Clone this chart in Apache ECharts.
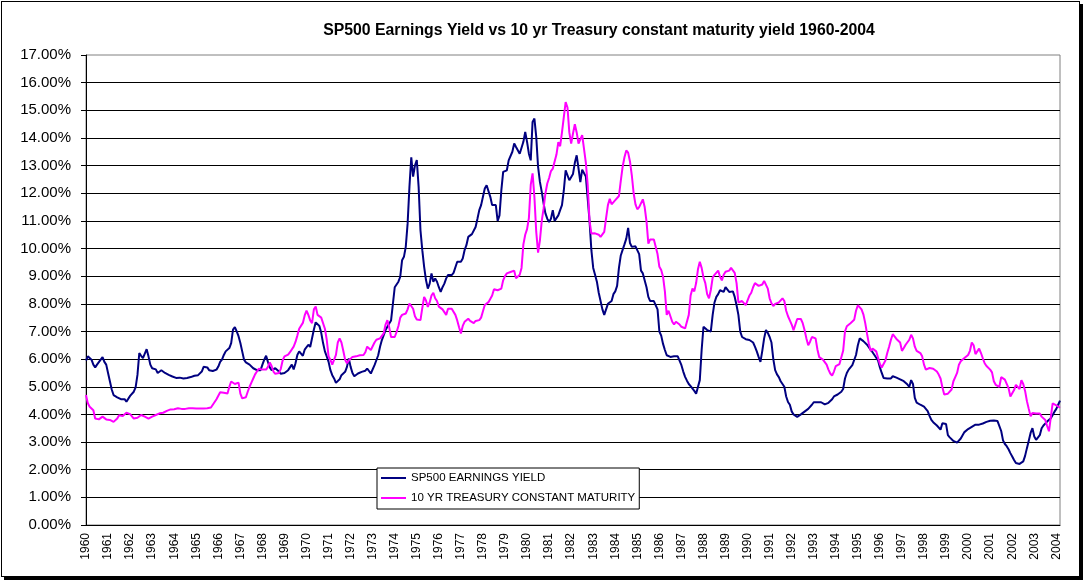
<!DOCTYPE html>
<html>
<head>
<meta charset="utf-8">
<script src="https://cdn.jsdelivr.net/npm/echarts@6/dist/echarts.min.js"></script>
<style>
  html, body { margin: 0; padding: 0; background: #ffffff; }
  #frame { position: absolute; left: 1px; top: 1px; width: 1077px; height: 574px;
           border: 1px solid #000; background: #fff; box-shadow: 3px 3px 0 #000; }
  #chart { position: absolute; left: 0; top: 0; width: 1085px; height: 583px; }
</style>
</head>
<body>
<div id="frame"></div>
<div id="chart"></div>
<script>
// Year tick labels (one label per January)
const years = [1960,1961,1962,1963,1964,1965,1966,1967,1968,1969,
               1970,1971,1972,1973,1974,1975,1976,1977,1978,1979,
               1980,1981,1982,1983,1984,1985,1986,1987,1988,1989,
               1990,1991,1992,1993,1994,1995,1996,1997,1998,1999,
               2000,2001,2002,2003,2004];

// SP500 earnings yield, monthly, percent
const spEarningsYield = [
  5.95,6.1,6.15,5.98,5.8,5.7,5.8,5.83,5.98,6.07,5.9,5.8,          // 1960
  5.5,5.2,4.9,4.7,4.65,4.62,4.62,4.55,4.52,4.55,4.46,4.52,        // 1961
  4.67,4.74,4.82,4.98,5.43,6.22,6.12,6.04,6.1,6.36,6.1,5.8,       // 1962
  5.67,5.6,5.63,5.5,5.47,5.6,5.55,5.5,5.5,5.43,5.47,5.37,         // 1963
  5.33,5.32,5.35,5.33,5.32,5.3,5.36,5.32,5.38,5.35,5.37,5.4,      // 1964
  5.4,5.42,5.45,5.55,5.72,5.76,5.7,5.6,5.55,5.57,5.6,5.62,        // 1965
  5.73,5.9,5.98,6.15,6.28,6.34,6.4,6.58,7.07,7.16,7.0,6.83,       // 1966
  6.58,6.28,5.98,5.88,5.83,5.8,5.73,5.67,5.6,5.6,5.67,5.6,        // 1967
  5.8,5.98,6.12,5.9,5.7,5.6,5.6,5.67,5.73,5.55,5.47,5.47,         // 1968
  5.5,5.55,5.6,5.67,5.8,5.63,5.85,6.15,6.28,6.22,6.12,6.34,       // 1969
  6.4,6.52,6.44,6.5,7.07,7.33,7.3,7.2,6.95,6.58,6.28,6.1,         // 1970
  5.9,5.6,5.42,5.3,5.14,5.12,5.27,5.42,5.48,5.54,5.72,6.02,       // 1971
  5.72,5.5,5.38,5.38,5.48,5.5,5.54,5.54,5.58,5.66,5.6,5.48,       // 1972
  5.46,5.78,5.96,6.14,6.45,6.69,6.87,7.05,7.11,7.29,7.4,8.0,      // 1973
  8.6,8.67,8.8,8.98,9.58,9.7,10.06,10.9,12.23,13.3,12.6,13.0,     // 1974
  13.2,12.23,10.66,9.94,9.34,8.86,8.55,8.73,9.1,8.8,8.92,8.8,     // 1975
  8.6,8.43,8.6,8.73,8.92,9.04,9.04,9.04,9.12,9.16,9.52,9.52,      // 1976
  9.52,9.64,9.94,10.12,10.42,10.48,10.52,10.54,10.78,11.08,11.39,11.57, // 1977
  11.87,12.17,12.29,12.23,11.87,11.57,11.5,11.57,11.0,11.2,12.1,12.77,  // 1978
  12.83,12.83,13.19,13.25,13.5,13.8,13.67,13.73,13.43,13.5,13.86,14.22, // 1979
  13.86,13.43,13.19,14.58,14.7,14.04,12.95,12.41,12.05,11.63,11.27,11.08, // 1980
  10.96,11.08,11.39,11.0,11.0,11.2,11.39,11.57,12.1,12.83,12.65,12.47,  // 1981
  12.4,12.7,13.1,13.37,12.9,12.4,12.85,12.8,12.6,11.8,11.0,9.94,  // 1982
  9.3,9.05,8.8,8.4,8.1,7.8,7.6,7.65,8.0,8.05,8.1,8.35,            // 1983
  8.45,8.65,9.3,9.75,9.95,10.15,10.36,10.75,10.2,10.06,10.06,10.08, // 1984
  10.06,9.8,9.2,9.1,9.04,8.6,8.25,8.1,8.07,8.1,8.13,7.8,          // 1985
  7.0,6.85,6.55,6.33,6.14,6.1,6.08,6.06,6.1,6.14,6.1,6.05,        // 1986
  5.78,5.55,5.36,5.22,5.1,5.02,4.95,4.85,4.75,4.72,5.24,6.33,     // 1987
  7.17,7.1,7.05,7.0,7.0,7.6,8.05,8.25,8.35,8.49,8.45,8.43,        // 1988
  8.6,8.55,8.43,8.5,8.45,8.25,7.95,7.6,7.0,6.8,6.75,6.72,         // 1989
  6.7,6.69,6.69,6.6,6.45,6.28,6.08,5.9,6.3,6.75,7.05,6.95,        // 1990
  6.8,6.6,6.0,5.6,5.45,5.35,5.2,5.1,5.0,4.65,4.45,4.35,           // 1991
  4.11,4.0,3.93,3.91,3.95,4.0,4.05,4.1,4.15,4.2,4.24,4.35,        // 1992
  4.44,4.44,4.44,4.45,4.44,4.4,4.36,4.38,4.42,4.47,4.55,4.65,     // 1993
  4.67,4.72,4.76,4.82,4.92,5.3,5.5,5.62,5.7,5.78,5.85,6.15,       // 1994
  6.5,6.75,6.72,6.65,6.59,6.52,6.45,6.33,6.25,6.15,6.05,5.95,     // 1995
  5.7,5.5,5.32,5.28,5.3,5.32,5.3,5.38,5.4,5.33,5.3,5.27,          // 1996
  5.24,5.2,5.16,5.08,5.0,5.24,5.1,4.6,4.43,4.4,4.35,4.3,          // 1997
  4.28,4.25,4.12,3.95,3.8,3.72,3.65,3.6,3.57,3.45,3.68,3.7,       // 1998
  3.65,3.25,3.17,3.1,3.04,2.98,2.98,3.02,3.13,3.25,3.36,3.42,     // 1999
  3.47,3.51,3.55,3.6,3.63,3.63,3.63,3.65,3.67,3.7,3.73,3.77,      // 2000
  3.77,3.75,3.78,3.78,3.76,3.72,3.4,3.06,2.93,2.85,2.74,2.6,      // 2001
  2.48,2.35,2.24,2.21,2.21,2.22,2.3,2.5,2.78,3.05,3.33,3.5,       // 2002
  3.2,3.08,3.08,3.25,3.5,3.6,3.63,3.74,3.8,3.86,3.93,4.1,         // 2003
  4.2,4.35,4.5                                                    // 2004
];

// 10 yr Treasury constant maturity yield, monthly, percent
const treasury10y = [
  4.7,4.4,4.28,4.34,4.15,3.85,3.82,3.82,3.85,3.92,3.85,3.82,      // 1960
  3.82,3.8,3.76,3.73,3.76,3.85,3.97,3.92,3.94,4.01,4.06,4.06,     // 1961
  4.01,3.94,3.85,3.85,3.88,3.94,3.98,3.98,3.92,3.89,3.85,3.87,    // 1962
  3.92,3.94,3.98,4.01,4.04,4.06,4.06,4.1,4.13,4.15,4.18,4.19,     // 1963
  4.19,4.22,4.22,4.23,4.2,4.22,4.2,4.2,4.22,4.22,4.22,4.22,       // 1964
  4.21,4.21,4.21,4.21,4.21,4.21,4.22,4.22,4.25,4.32,4.45,4.55,    // 1965
  4.6,4.8,4.85,4.78,4.76,4.76,5.0,5.19,5.2,5.1,5.07,5.15,         // 1966
  4.75,4.58,4.58,4.62,4.82,5.0,5.15,5.3,5.45,5.55,5.65,5.72,      // 1967
  5.62,5.58,5.62,5.72,5.88,5.75,5.55,5.47,5.47,5.5,5.65,5.95,     // 1968
  6.1,6.14,6.16,6.25,6.32,6.45,6.62,6.85,7.1,7.15,7.31,7.58,      // 1969
  7.75,7.6,7.4,7.3,7.8,7.9,7.6,7.53,7.5,7.45,7.1,6.7,             // 1970
  6.1,5.97,5.8,5.75,6.15,6.6,6.75,6.6,6.3,5.98,5.85,5.95,         // 1971
  6.0,6.08,6.08,6.1,6.14,6.14,6.14,6.15,6.25,6.45,6.39,6.33,      // 1972
  6.4,6.6,6.7,6.75,6.75,6.82,6.93,7.25,7.41,7.15,6.8,6.75,        // 1973
  6.8,6.98,7.2,7.5,7.6,7.56,7.65,7.8,8.01,7.95,7.82,7.55,         // 1974
  7.43,7.42,7.41,7.85,8.25,8.12,7.89,8.05,8.3,8.4,8.2,8.1,        // 1975
  7.9,7.83,7.8,7.7,7.6,7.82,7.87,7.82,7.77,7.6,7.4,7.15,          // 1976
  6.93,7.2,7.35,7.42,7.46,7.38,7.32,7.3,7.38,7.41,7.41,7.5,       // 1977
  7.73,7.96,8.03,8.06,8.1,8.3,8.53,8.6,8.49,8.43,8.55,8.85,       // 1978
  9.0,9.1,9.12,9.15,9.16,9.2,8.92,8.95,9.05,9.3,10.15,10.5,       // 1979
  10.7,11.1,12.3,12.72,11.87,10.6,9.85,10.3,11.0,11.45,12.0,12.35, // 1980
  12.55,12.8,12.89,13.15,13.4,13.85,13.7,14.2,14.75,15.3,15.1,14.2, // 1981
  13.8,14.16,14.5,14.2,13.8,13.75,14.1,14.1,13.1,12.3,11.0,10.54, // 1982
  10.5,10.55,10.62,10.5,10.42,10.4,10.6,11.1,11.57,11.8,11.6,11.66, // 1983
  11.75,11.78,11.9,12.45,12.95,13.3,13.55,13.47,13.15,12.65,12.0,11.6, // 1984
  11.42,11.5,11.57,11.78,11.5,10.98,10.18,10.33,10.36,10.33,10.3,9.8, // 1985
  9.34,9.22,8.98,8.45,7.6,7.75,7.77,7.35,7.25,7.35,7.42,7.25,     // 1986
  7.17,7.12,7.11,7.15,7.6,8.3,8.55,8.45,8.75,9.25,9.52,9.3,       // 1987
  8.95,8.75,8.35,8.2,8.5,8.95,9.05,9.1,9.2,8.98,8.85,9.05,        // 1988
  9.16,9.17,9.2,9.3,9.3,9.12,8.75,8.05,8.01,8.1,8.1,7.95,         // 1989
  7.9,8.3,8.4,8.6,8.75,8.7,8.65,8.62,8.7,8.83,8.8,8.55,           // 1990
  8.2,8.02,7.92,8.0,8.07,8.05,8.04,8.2,8.1,7.75,7.55,7.4,         // 1991
  7.25,7.05,7.1,7.45,7.5,7.45,7.3,7.05,6.75,6.5,6.63,6.8,         // 1992
  6.85,6.75,6.35,6.07,6.0,5.98,5.93,5.8,5.62,5.48,5.4,5.55,       // 1993
  5.75,5.8,5.82,5.88,6.3,7.0,7.19,7.2,7.3,7.33,7.42,7.75,         // 1994
  7.95,7.9,7.8,7.62,7.31,6.92,6.55,6.3,6.38,6.4,6.28,6.05,        // 1995
  5.82,5.7,5.74,5.95,6.22,6.45,6.7,6.9,6.85,6.73,6.78,6.6,        // 1996
  6.3,6.4,6.52,6.5,6.7,6.88,6.75,6.45,6.3,6.28,6.22,6.1,          // 1997
  5.8,5.62,5.62,5.68,5.68,5.65,5.63,5.55,5.44,5.3,4.98,4.72,      // 1998
  4.65,4.75,4.76,4.9,5.2,5.35,5.5,5.8,5.92,5.99,6.04,6.07,        // 1999
  6.15,6.3,6.6,6.5,6.18,6.25,6.38,6.22,6.03,5.85,5.75,5.72,       // 2000
  5.62,5.52,5.2,5.07,5.02,5.0,5.35,5.35,5.26,5.2,4.95,4.65,       // 2001
  4.59,4.88,5.07,5.0,4.92,5.24,5.1,4.85,4.48,4.2,3.93,4.05,       // 2002
  4.04,4.03,4.0,4.03,3.92,3.87,3.8,3.58,3.39,3.9,4.4,4.35,        // 2003
  4.33,4.3,4.24                                                   // 2004
];

const seriesNames = ['SP500 EARNINGS YIELD', '10 YR TREASURY CONSTANT MATURITY'];
const titleText = 'SP500 Earnings Yield vs 10 yr Treasury constant maturity yield 1960-2004';

// Monthly categories built from the year labels
const categories = [];
for (let i = 0; i < spEarningsYield.length; i++) {
  const y = years[Math.floor(i / 12)];
  const m = (i % 12) + 1;
  categories.push(y + '-' + (m < 10 ? '0' : '') + m);
}

const FONT = '"Liberation Sans", Arial, sans-serif';
const chart = echarts.init(document.getElementById('chart'), null, { renderer: 'canvas' });
chart.setOption({
  animation: false,
  backgroundColor: 'transparent',
  title: {
    text: titleText,
    left: 594,
    textAlign: 'center',
    top: 18,
    textStyle: { fontFamily: FONT, fontSize: 15.8, fontWeight: 'bold', color: '#000' }
  },
  grid: {
    left: 86, right: 25, top: 55, bottom: 58,
    show: true, borderColor: '#808080', borderWidth: 1, backgroundColor: 'transparent'
  },
  legend: {
    left: 377, top: 468,
    orient: 'vertical',
    data: seriesNames,
    icon: 'rect',
    itemWidth: 25, itemHeight: 2,
    itemGap: 0,
    padding: [0, 4, 1, 4],
    backgroundColor: '#fff',
    borderColor: '#000', borderWidth: 1,
    textStyle: { fontFamily: FONT, fontSize: 11.5, color: '#000', lineHeight: 20 }
  },
  xAxis: {
    type: 'category',
    data: categories,
    boundaryGap: false,
    axisLine: { lineStyle: { color: '#000', width: 1 } },
    axisTick: { show: false },
    axisLabel: {
      interval: 11,
      rotate: 90,
      margin: 8,
      fontFamily: FONT, fontSize: 12, color: '#000',
      formatter: v => v.slice(0, 4)
    },
    splitLine: { show: false }
  },
  yAxis: {
    type: 'value',
    min: 0, max: 17, interval: 1,
    axisLine: { show: true, lineStyle: { color: '#000', width: 1 } },
    axisTick: { show: true, length: 5, lineStyle: { color: '#000' } },
    axisLabel: {
      margin: 15,
      fontFamily: FONT, fontSize: 15, color: '#000',
      formatter: v => v.toFixed(2) + '%'
    },
    splitLine: { show: true, showMaxLine: false, lineStyle: { color: '#000', width: 1 } }
  },
  series: [
    {
      name: seriesNames[0], type: 'line', data: spEarningsYield,
      showSymbol: false, symbol: 'none',
      lineStyle: { color: '#000080', width: 2 }, itemStyle: { color: '#000080' }
    },
    {
      name: seriesNames[1], type: 'line', data: treasury10y,
      showSymbol: false, symbol: 'none',
      lineStyle: { color: '#FF00FF', width: 2 }, itemStyle: { color: '#FF00FF' }
    }
  ]
});
</script>
</body>
</html>
